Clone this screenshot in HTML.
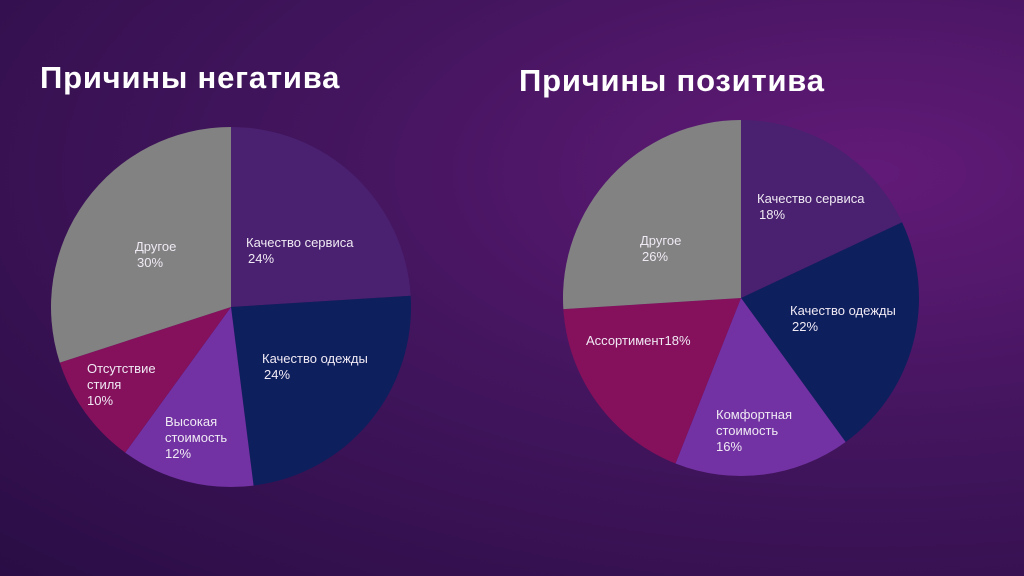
<!DOCTYPE html>
<html><head><meta charset="utf-8">
<style>
html,body{margin:0;padding:0}
body{width:1024px;height:576px;overflow:hidden;font-family:"Liberation Sans",sans-serif;
background:radial-gradient(ellipse at 85% 30%,#621a78 0%,#43155e 45%,#2a0d45 100%);position:relative}
.t{position:absolute;color:#fff;font-weight:bold;font-size:31px;letter-spacing:0.8px}
svg{position:absolute;left:0;top:0}
</style></head><body>
<div class="t" style="left:40px;top:60px">Причины негатива</div>
<div class="t" style="left:519px;top:63px">Причины позитива</div>
<svg id="s" width="1024" height="576"></svg>
<script>
const negLabels=["Качество сервиса","Качество одежды","Высокая\nстоимость","Отсутствие\nстиля","Другое"];
const negValues=[24,24,12,10,30];
const posLabels=["Качество сервиса","Качество одежды","Комфортная\nстоимость","Ассортимент","Другое"];
const posValues=[18,22,16,18,26];
const colors=["#4a2170","#0e1f5e","#7232a3","#85105c","#828282"];
// layout only: label anchor (left x, first baseline y) and whether % is on same line
const negPos=[[246,247,0],[262,363,0],[165,426,0],[87,373,0],[135,251,0]];
const posPos=[[757,203,0],[790,315,0],[716,419,0],[586,345,1],[640,245,0]];
const NS="http://www.w3.org/2000/svg";
const svg=document.getElementById('s');
function pie(cx,cy,r,labels,values,pos,name){
  const tot=values.reduce((a,b)=>a+b,0);let a0=-Math.PI/2;
  values.forEach((v,i)=>{
    const a1=a0+v/tot*2*Math.PI;
    const x0=cx+r*Math.cos(a0),y0=cy+r*Math.sin(a0),x1=cx+r*Math.cos(a1),y1=cy+r*Math.sin(a1);
    const p=document.createElementNS(NS,'path');
    p.setAttribute('d',`M${cx},${cy}L${x0},${y0}A${r},${r} 0 ${a1-a0>Math.PI?1:0} 1 ${x1},${y1}Z`);
    p.setAttribute('fill',colors[i]);
    
    
    svg.appendChild(p);
    const lines=labels[i].split('\n');
    if(pos[i][2]) lines[lines.length-1]+=values[i]+'%'; else lines.push(values[i]+'%');
    const t=document.createElementNS(NS,'text');
    t.setAttribute('fill','#f0eaf4');t.setAttribute('font-size','13');
    t.setAttribute('font-family','Liberation Sans, sans-serif');
    
    
    lines.forEach((s,k)=>{const ts=document.createElementNS(NS,'tspan');ts.setAttribute('x',pos[i][0]+(k===lines.length-1&&!pos[i][2]&&lines.length===2?2:0));ts.setAttribute('y',pos[i][1]+k*16);ts.textContent=s;t.appendChild(ts);});
    svg.appendChild(t);
    a0=a1;
  });
}
pie(231,307,180,negLabels,negValues,negPos,'negative');
pie(741,298,178,posLabels,posValues,posPos,'positive');
</script>
</body></html>
